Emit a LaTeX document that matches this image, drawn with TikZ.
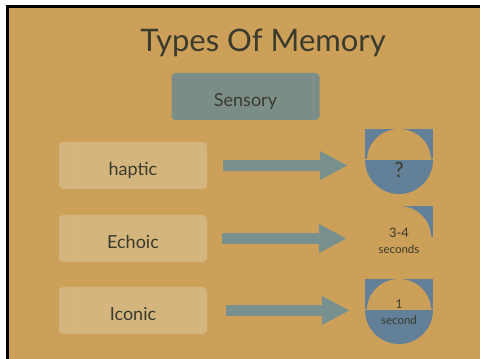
\documentclass[tikz,border=0pt]{standalone}
\usepackage{fontspec}
\setmainfont{Lato}
\usetikzlibrary{arrows.meta}
\definecolor{bg}{RGB}{204,160,88}
\definecolor{boxtan}{RGB}{211,181,125}
\definecolor{sens}{RGB}{122,142,135}
\definecolor{arr}{RGB}{120,144,142}
\definecolor{shp}{RGB}{98,128,152}
\definecolor{ink}{RGB}{58,58,45}
\tikzset{
  labelbox/.style={rectangle, rounded corners=4pt, minimum width=148pt, minimum height=47pt,
    inner sep=0pt, text=ink, font=\fontsize{18}{20}\selectfont, text height=20pt, text depth=0pt},
  lightbox/.style={labelbox, fill=boxtan},
  sensbox/.style={labelbox, fill=sens},
  bigarrow/.style={draw=arr, line width=11pt, -{Triangle[length=28pt,width=27pt]}},
  shapenode/.style={circle, minimum size=68pt, inner sep=0pt},
  shapetext/.style={text=ink, anchor=base, inner sep=0pt},
  edgeline/.style={line width=0.8pt, opacity=0.06}
}
\begin{document}
\begin{tikzpicture}[x=1pt,y=1pt]
\useasboundingbox (0,0) rectangle (480,359);
\fill[white] (0,0) rectangle (480,359);
\fill[bg] (8.5,0) rectangle (480,351.5);
\draw[black, line width=2.5pt, line join=miter] (7.5,0) -- (7.5,352.5) -- (480,352.5);

% title
\node[text=ink, anchor=base, inner sep=0pt, font=\fontsize{31}{36}\selectfont] (title) at (263,307) {Types Of Memory};

% boxes
\node[sensbox] (sensory) at (245.5,262.5) {Sensory};
\node[lightbox] (haptic) at (133,193.5) {haptic};
\node[lightbox] (echoic) at (133,120.5) {Echoic};
\node[lightbox] (iconic) at (133,48.5) {Iconic};

% faint texture strips
\foreach \b in {haptic,echoic,iconic}{
  \draw[edgeline, white] ([xshift=14pt,yshift=2pt]\b.south west) -- ([xshift=14pt,yshift=-2pt]\b.north west);
  \draw[edgeline, white] ([xshift=-7pt,yshift=2pt]\b.south east) -- ([xshift=-7pt,yshift=-2pt]\b.north east);
}
\draw[edgeline, white] ([xshift=-6pt,yshift=1pt]sensory.south east) -- ([xshift=-6pt,yshift=-1pt]sensory.north east);

% shape anchors
\node[shapenode] (hs) at (399,199) {};
\node[shapenode] (es) at (399,122) {};
\node[shapenode] (is) at (399,49) {};

% haptic shape
\fill[shp] (365,199) rectangle (433,230);
\fill[bg] (367,199) arc[start angle=180, end angle=0, x radius=32, y radius=31] -- cycle;
\fill[shp] (365,199) arc[start angle=180, end angle=360, radius=34] -- cycle;
\draw[bg, line width=1pt] (365,199) -- (433,199);

% echoic shape
\fill[shp] (399,122) rectangle (433,153);
\fill[bg] (399,122) -- (431,122) arc[start angle=0, end angle=90, x radius=32, y radius=31] -- cycle;

% iconic shape
\fill[shp] (365,49) rectangle (433,80);
\fill[bg] (367,49) arc[start angle=180, end angle=0, x radius=32, y radius=31] -- cycle;
\fill[shp] (365,49) arc[start angle=180, end angle=360, radius=34] -- cycle;
\draw[bg, line width=1pt] (365,49) -- (433,49);

% shape texts
\node[shapetext, font=\fontsize{21}{24}\selectfont] (hq) at (399,181.7) {?};
\node[shapetext, font=\fontsize{13}{15}\selectfont] (e1) at (399,121.7) {3-4};
\node[shapetext, font=\fontsize{11.5}{13}\selectfont] (e2) at (399,105.7) {seconds};
\node[shapetext, font=\fontsize{12}{14}\selectfont] (i1) at (399,50) {1};
\node[shapetext, font=\fontsize{11.5}{13}\selectfont] (i2) at (399,34) {second};

% arrows
\draw[bigarrow, shorten <=16pt, shorten >=17pt] (haptic.east) -- (haptic.east -| hs.west);
\draw[bigarrow, shorten <=15pt, shorten >=18pt] (echoic.east) -- (echoic.east -| es.west);
\draw[bigarrow, shorten <=19pt, shorten >=15pt] (iconic.east) -- (iconic.east -| is.west);
\end{tikzpicture}
\end{document}
